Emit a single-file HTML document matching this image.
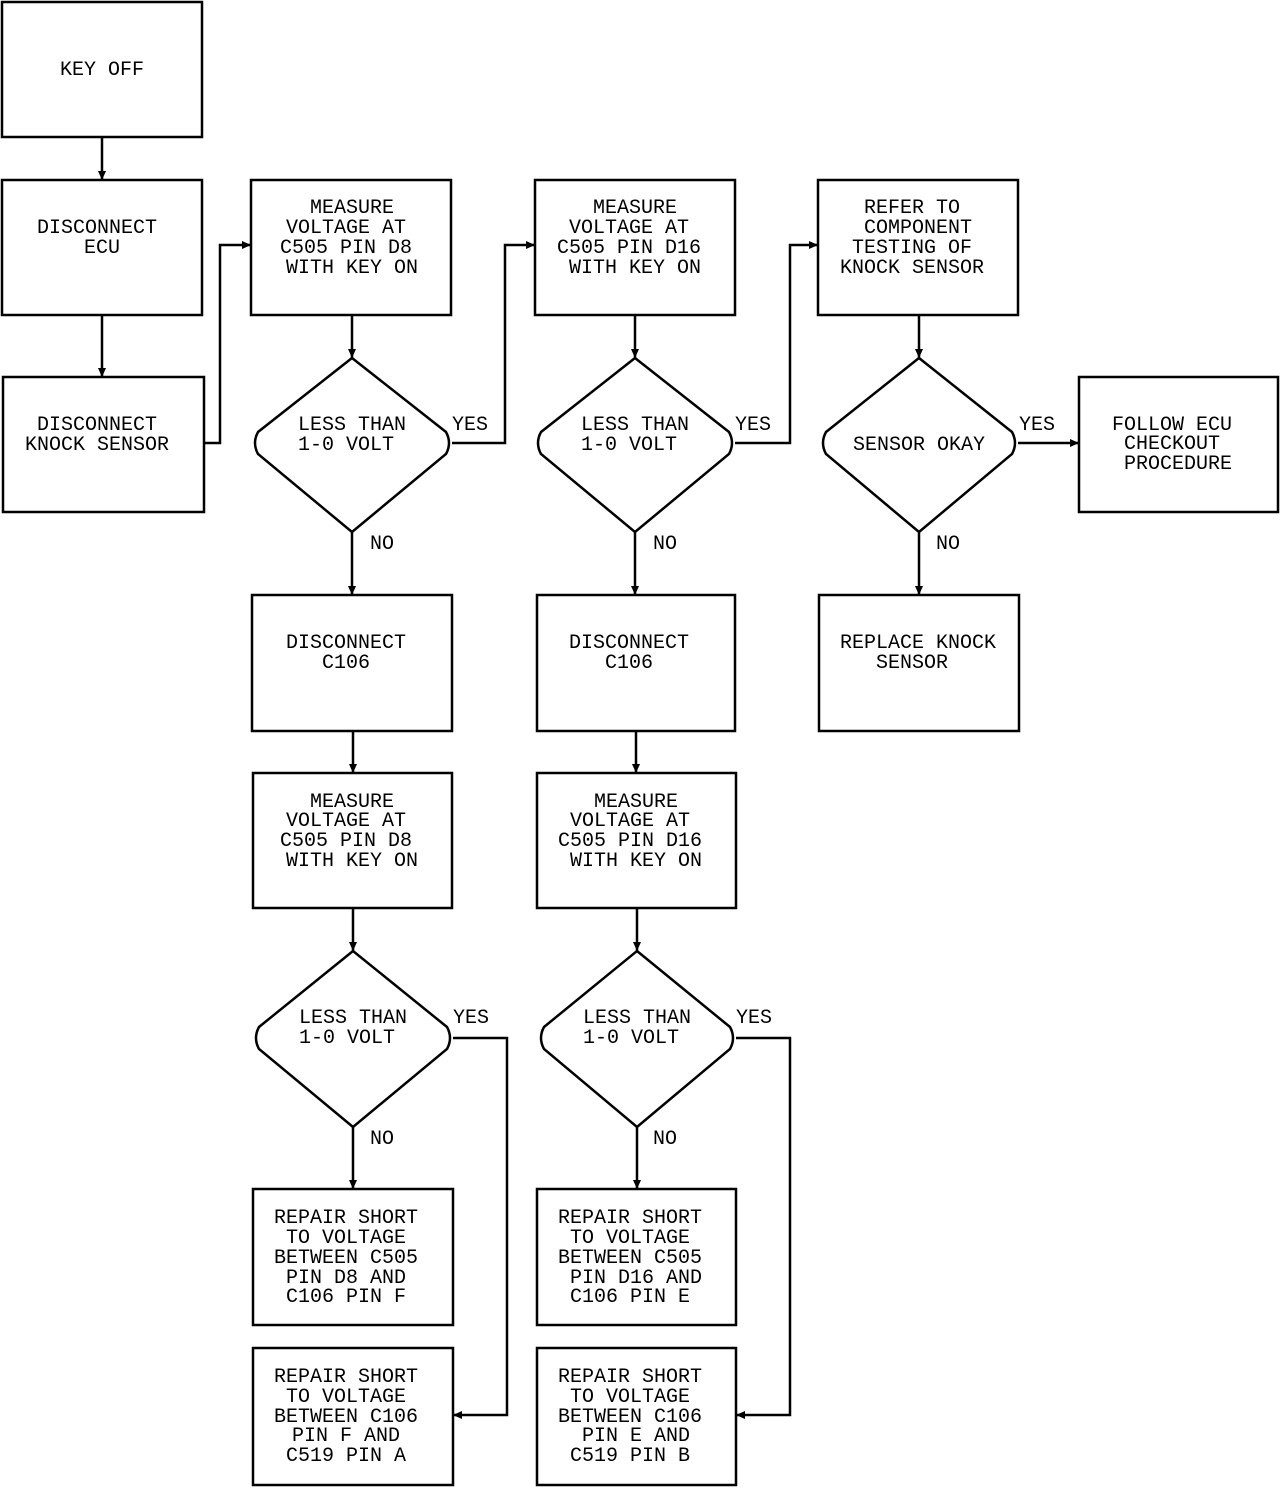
<!DOCTYPE html>
<html><head><meta charset="utf-8"><style>
html,body{margin:0;padding:0;background:#fff}
svg text{font-family:"Liberation Mono",monospace;font-size:20px;fill:#000;text-anchor:middle}
</style></head><body>
<svg width="1280" height="1488" viewBox="0 0 1280 1488" xmlns="http://www.w3.org/2000/svg">
<defs><marker id="a" markerWidth="10" markerHeight="10" refX="9" refY="5" orient="auto" markerUnits="userSpaceOnUse"><path d="M0,1 L9,5 L0,9 Z" fill="#000"/></marker></defs>
<g fill="none" stroke="#000" stroke-width="2.5">
<rect x="2" y="2" width="200" height="135"/>
<rect x="2" y="180" width="200" height="135"/>
<rect x="3" y="377" width="201" height="135"/>
<rect x="251" y="180" width="200" height="135"/>
<rect x="252" y="595" width="200" height="136"/>
<rect x="253" y="773" width="199" height="135"/>
<rect x="253" y="1189" width="200" height="136"/>
<rect x="253" y="1348" width="200" height="137"/>
<rect x="535" y="180" width="200" height="135"/>
<rect x="537" y="595" width="198" height="136"/>
<rect x="537" y="773" width="199" height="135"/>
<rect x="537" y="1189" width="199" height="136"/>
<rect x="537" y="1348" width="199" height="137"/>
<rect x="818" y="180" width="200" height="135"/>
<rect x="819" y="595" width="200" height="136"/>
<rect x="1079" y="377" width="199" height="135"/>
<path d="M352,358 L446,432 Q452,443 446,454 L352,532 L258,454 Q252,443 258,432 Z"/>
<path d="M353,951 L447,1027 Q453,1038 447,1049 L353,1127 L259,1049 Q253,1038 259,1027 Z"/>
<path d="M635,358 L729,432 Q735,443 729,454 L635,532 L541,454 Q535,443 541,432 Z"/>
<path d="M637,951 L730,1027 Q736,1038 730,1049 L637,1127 L544,1049 Q538,1038 544,1027 Z"/>
<path d="M919,358 L1012,432 Q1018,443 1012,454 L919,532 L826,454 Q820,443 826,432 Z"/>
</g>
<g fill="none" stroke="#000" stroke-width="2.5" marker-end="url(#a)">
<path d="M102,137 V180"/>
<path d="M102,315 V377"/>
<path d="M204,443 H220 V245 H251"/>
<path d="M352,315 V358"/>
<path d="M452,443 H505 V245 H535"/>
<path d="M352,532 V595"/>
<path d="M353,731 V773"/>
<path d="M353,908 V951"/>
<path d="M353,1127 V1189"/>
<path d="M453,1038 H507 V1415 H453"/>
<path d="M635,315 V358"/>
<path d="M735,443 H790 V245 H818"/>
<path d="M635,532 V595"/>
<path d="M636,731 V773"/>
<path d="M637,908 V951"/>
<path d="M637,1127 V1189"/>
<path d="M736,1038 H790 V1415 H736"/>
<path d="M919,315 V358"/>
<path d="M1018,443 H1079"/>
<path d="M919,532 V595"/>
</g>
<text x="102" y="75">KEY OFF</text>
<text x="97" y="233">DISCONNECT</text><text x="102" y="253">ECU</text>
<text x="97" y="430">DISCONNECT</text><text x="97" y="450">KNOCK SENSOR</text>
<text x="352" y="213">MEASURE</text><text x="346" y="233">VOLTAGE AT</text><text x="346" y="253">C505 PIN D8</text><text x="352" y="273">WITH KEY ON</text>
<text x="352" y="430">LESS THAN</text><text x="346" y="450">1-0 VOLT</text>
<text x="470" y="430">YES</text><text x="382" y="549">NO</text>
<text x="346" y="648">DISCONNECT</text><text x="346" y="668">C106</text>
<text x="352" y="807">MEASURE</text><text x="346" y="826">VOLTAGE AT</text><text x="346" y="846">C505 PIN D8</text><text x="352" y="866">WITH KEY ON</text>
<text x="353" y="1023">LESS THAN</text><text x="347" y="1043">1-0 VOLT</text>
<text x="471" y="1023">YES</text><text x="382" y="1144">NO</text>
<text x="346" y="1223">REPAIR SHORT</text><text x="346" y="1243">TO VOLTAGE</text><text x="346" y="1263">BETWEEN C505</text><text x="346" y="1283">PIN D8 AND</text><text x="346" y="1302">C106 PIN F</text>
<text x="346" y="1382">REPAIR SHORT</text><text x="346" y="1402">TO VOLTAGE</text><text x="346" y="1422">BETWEEN C106</text><text x="346" y="1441">PIN F AND</text><text x="346" y="1461">C519 PIN A</text>
<text x="635" y="213">MEASURE</text><text x="629" y="233">VOLTAGE AT</text><text x="629" y="253">C505 PIN D16</text><text x="635" y="273">WITH KEY ON</text>
<text x="635" y="430">LESS THAN</text><text x="629" y="450">1-0 VOLT</text>
<text x="753" y="430">YES</text><text x="665" y="549">NO</text>
<text x="629" y="648">DISCONNECT</text><text x="629" y="668">C106</text>
<text x="636" y="807">MEASURE</text><text x="630" y="826">VOLTAGE AT</text><text x="630" y="846">C505 PIN D16</text><text x="636" y="866">WITH KEY ON</text>
<text x="637" y="1023">LESS THAN</text><text x="631" y="1043">1-0 VOLT</text>
<text x="754" y="1023">YES</text><text x="665" y="1144">NO</text>
<text x="630" y="1223">REPAIR SHORT</text><text x="630" y="1243">TO VOLTAGE</text><text x="630" y="1263">BETWEEN C505</text><text x="636" y="1283">PIN D16 AND</text><text x="630" y="1302">C106 PIN E</text>
<text x="630" y="1382">REPAIR SHORT</text><text x="630" y="1402">TO VOLTAGE</text><text x="630" y="1422">BETWEEN C106</text><text x="636" y="1441">PIN E AND</text><text x="630" y="1461">C519 PIN B</text>
<text x="912" y="213">REFER TO</text><text x="918" y="233">COMPONENT</text><text x="912" y="253">TESTING OF</text><text x="912" y="273">KNOCK SENSOR</text>
<text x="919" y="450">SENSOR OKAY</text>
<text x="1037" y="430">YES</text><text x="948" y="549">NO</text>
<text x="918" y="648">REPLACE KNOCK</text><text x="912" y="668">SENSOR</text>
<text x="1172" y="430">FOLLOW ECU</text><text x="1172" y="449">CHECKOUT</text><text x="1178" y="469">PROCEDURE</text>
</svg>
</body></html>
